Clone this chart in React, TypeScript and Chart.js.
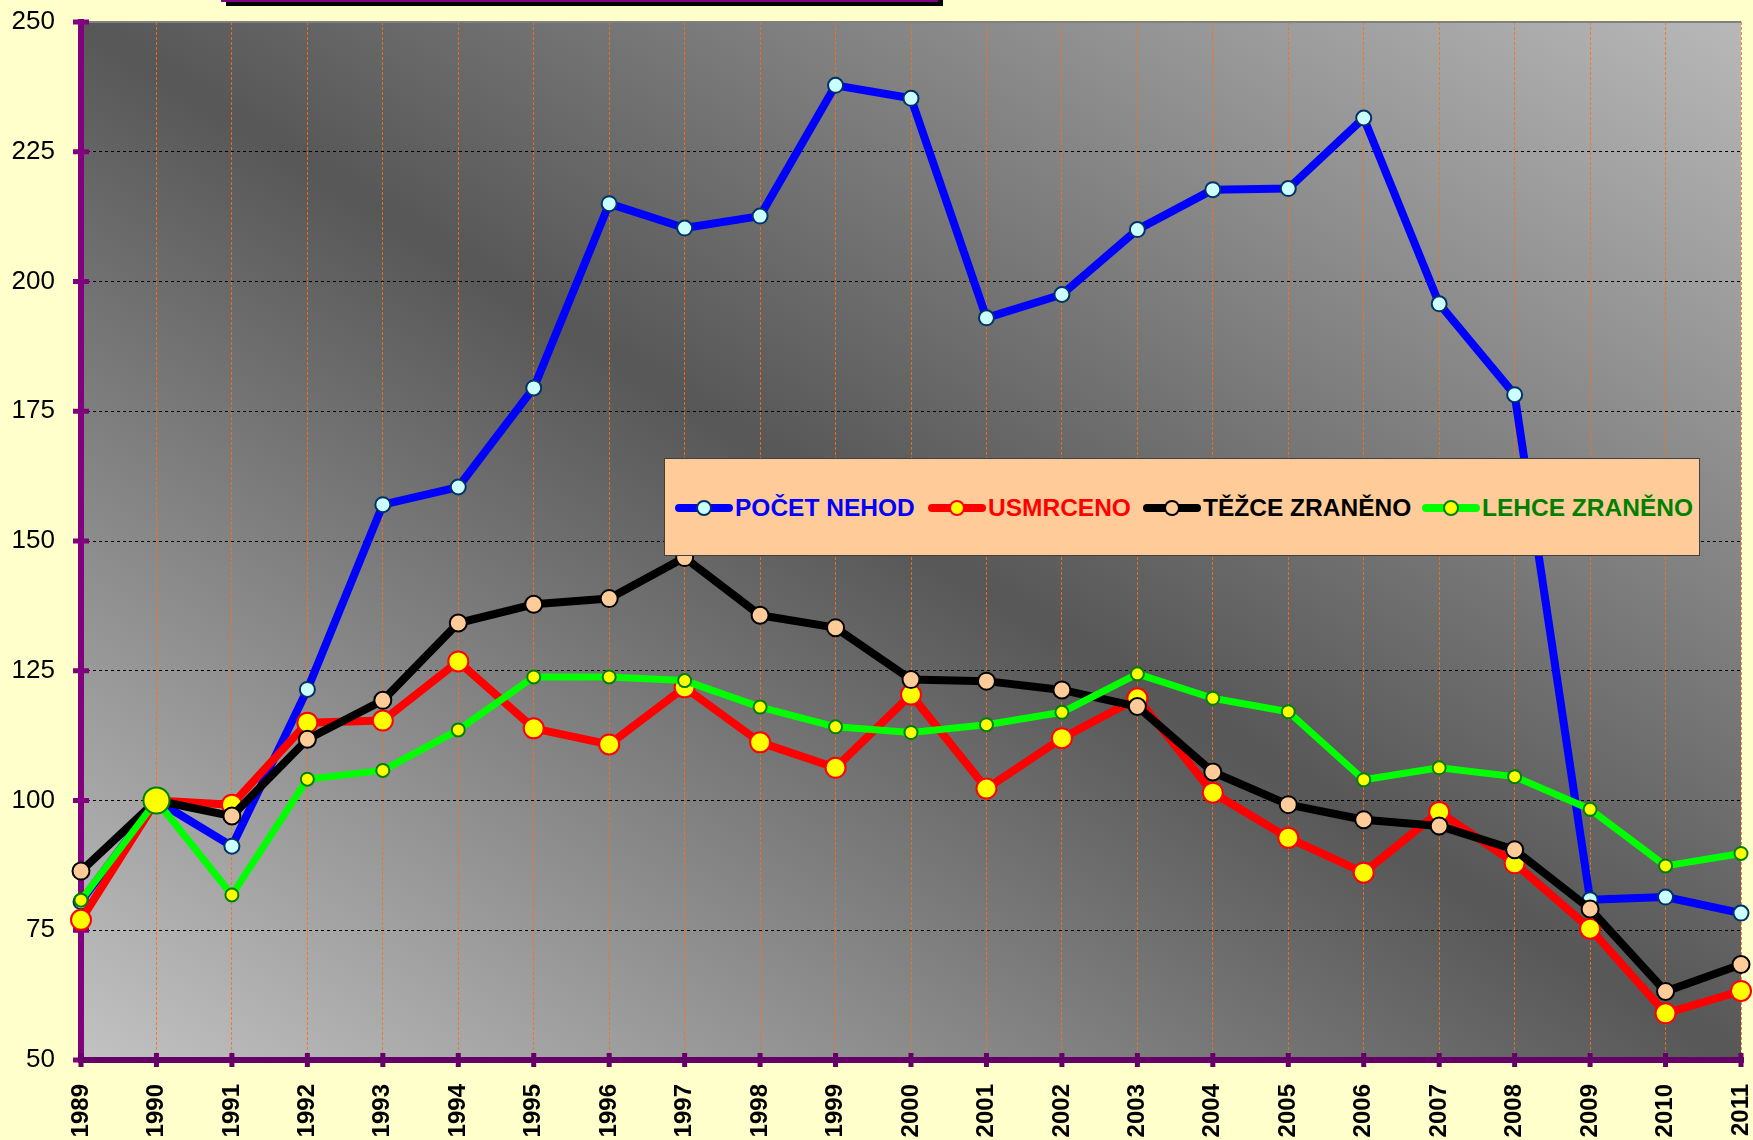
import React, { useEffect, useRef } from 'react';
import { Chart, registerables } from 'chart.js';

Chart.register(...registerables);

const years = ['1989', '1990', '1991', '1992', '1993', '1994', '1995', '1996', '1997', '1998', '1999', '2000', '2001', '2002', '2003', '2004', '2005', '2006', '2007', '2008', '2009', '2010', '2011'];

const pocetNehod = [80.5, 100, 91.2, 121.4, 157, 160.4, 179.5, 215, 210.3, 212.6, 237.8, 235.3, 193, 197.5, 210, 217.7, 217.9, 231.5, 195.7, 178.2, 80.9, 81.4, 78.3];
const usmrceno = [77, 100, 99.2, 115, 115.4, 126.8, 113.9, 110.8, 121.8, 111.2, 106.3, 120.4, 102.3, 112, 119.7, 101.5, 92.8, 86.1, 97.8, 87.9, 75.3, 59, 63.3];
const tezceZraneno = [86.4, 100, 97, 111.8, 119.3, 134.2, 137.8, 138.9, 146.8, 135.7, 133.3, 123.3, 123, 121.3, 118.1, 105.5, 99.2, 96.3, 95.1, 90.5, 79.1, 63.2, 68.4];
const lehceZraneno = [80.8, 100, 81.8, 104.1, 105.8, 113.6, 123.8, 123.8, 123.1, 118, 114.2, 113.1, 114.6, 117, 124.4, 119.7, 117.1, 104, 106.3, 104.6, 98.3, 87.4, 89.8];

const yMin = 50;
const yMax = 250;
const yStep = 25;

const seriesNames = ['POČET NEHOD', 'USMRCENO', 'TĚŽCE ZRANĚNO', 'LEHCE ZRANĚNO'];

const FONT = "'Liberation Sans', Arial, Helvetica, sans-serif";

const styles = [
  { line: '#0000ff', fill: '#ccffff', border: '#003366', text: '#0000ff', r: 7.5, w: 8 },
  { line: '#ff0000', fill: '#ffff00', border: '#ff0000', text: '#ff0000', r: 10, w: 8 },
  { line: '#000000', fill: '#ffcc99', border: '#000000', text: '#000000', r: 8.5, w: 8 },
  { line: '#00ff00', fill: '#ffff00', border: '#008000', text: '#008000', r: 6.5, w: 7 },
];

const legendLefts = [10, 263, 478, 757];

const framePlugin = {
  id: 'frame',
  beforeDraw(chart: any) {
    const { ctx, chartArea: a } = chart;
    const W = a.right - a.left;
    const H = a.bottom - a.top;
    const cx = (a.left + a.right) / 2;
    const cy = (a.top + a.bottom) / 2;
    const len = Math.sqrt(W * W + H * H);
    const d = (W * H) / len;
    const ux = H / len;
    const uy = -W / len;
    const g = ctx.createLinearGradient(cx - d * ux, cy - d * uy, cx + d * ux, cy + d * uy);
    g.addColorStop(0, '#c2c2c2');
    g.addColorStop(0.5, '#575757');
    g.addColorStop(1, '#b8b8b8');
    ctx.save();
    ctx.fillStyle = g;
    ctx.fillRect(a.left, a.top, W, H);
    ctx.restore();
  },
  beforeDatasetsDraw(chart: any) {
    const { ctx, chartArea: a, scales } = chart;
    ctx.save();
    ctx.fillStyle = '#808080';
    ctx.fillRect(a.left, a.top - 1, a.right - a.left, 2);
    ctx.fillStyle = '#800080';
    ctx.fillRect(a.left - 3, a.top - 3, 6, a.bottom - a.top + 6);
    const ys = scales.y;
    ys.ticks.forEach((t: any) => {
      const py = ys.getPixelForValue(t.value);
      ctx.fillRect(a.left - 8, py - 2.5, 16, 5);
    });
    ctx.fillStyle = '#660066';
    ctx.fillRect(a.left - 3, a.bottom - 3, a.right - a.left + 6, 6);
    const xs = scales.x;
    xs.ticks.forEach((_t: any, i: number) => {
      const px = xs.getPixelForTick(i);
      ctx.fillRect(px - 2.5, a.bottom - 7, 5, 14);
    });
    ctx.restore();
  },
};

function LegendSample({ s }: { s: any }) {
  return (
    <svg width={58} height={20} style={{ display: 'block', flex: '0 0 auto' }}>
      <line x1={4} y1={10} x2={54} y2={10} stroke={s.line} strokeWidth={8} strokeLinecap="round" />
      <circle cx={29} cy={10} r={7} fill={s.fill} stroke={s.border} strokeWidth={2} />
    </svg>
  );
}

export default function App() {
  const ref = useRef<HTMLCanvasElement | null>(null);

  useEffect(() => {
    if (!ref.current) return;
    const data = [pocetNehod, usmrceno, tezceZraneno, lehceZraneno];
    const chart = new Chart(ref.current, {
      type: 'line',
      data: {
        labels: years,
        datasets: data.map((vals, i) => ({
          label: seriesNames[i],
          data: vals,
          borderColor: styles[i].line,
          backgroundColor: styles[i].line,
          borderWidth: styles[i].w,
          borderJoinStyle: 'round',
          borderCapStyle: 'round',
          pointBackgroundColor: styles[i].fill,
          pointBorderColor: styles[i].border,
          pointBorderWidth: 2,
          pointRadius: i === 3 ? (c: any) => (c.dataIndex === 1 ? 13 : styles[3].r) : styles[i].r,
          pointHoverRadius: styles[i].r,
          tension: 0,
          fill: false,
          clip: false as any,
          order: 4 - i,
        })),
      },
      options: {
        animation: false,
        responsive: false,
        devicePixelRatio: 1,
        events: [],
        layout: { padding: { top: 22, right: 8, left: 0, bottom: 0 } },
        plugins: {
          legend: { display: false },
          tooltip: { enabled: false },
          title: { display: false },
        },
        scales: {
          x: {
            type: 'category',
            offset: false,
            grid: {
              color: 'rgba(255,110,20,0.85)',
              lineWidth: 1,
              drawTicks: false,
              offset: false,
            },
            border: { display: false, dash: [3, 2] },
            ticks: {
              color: '#000000',
              font: { family: FONT, size: 24, weight: 'bold' },
              minRotation: 90,
              maxRotation: 90,
              autoSkip: false,
              padding: 24,
            },
            afterFit(s: any) {
              s.height = 80;
              s.paddingLeft = 0;
              s.paddingRight = 0;
            },
          },
          y: {
            min: yMin,
            max: yMax,
            grid: {
              color: '#000000',
              lineWidth: 1,
              drawTicks: false,
            },
            border: { display: false, dash: [3, 3] },
            ticks: {
              stepSize: yStep,
              color: '#000000',
              font: { family: FONT, size: 26 },
              padding: 26,
            },
            afterFit(s: any) {
              s.width = 81;
              s.paddingTop = 0;
              s.paddingBottom = 0;
            },
          },
        },
      },
      plugins: [framePlugin],
    } as any);
    return () => chart.destroy();
  }, []);

  return (
    <div
      style={{
        position: 'fixed',
        left: 0,
        top: 0,
        width: 1753,
        height: 1140,
        background: '#ffffcc',
        overflow: 'hidden',
      }}
    >
      <canvas ref={ref} width={1753} height={1140} style={{ position: 'absolute', left: 0, top: 0, width: 1753, height: 1140 }} />
      <div style={{ position: 'absolute', left: 226, top: 0, width: 717, height: 6, background: '#000000' }} />
      <div style={{ position: 'absolute', left: 221, top: 0, width: 717, height: 2, background: '#800080' }} />
      <div
        style={{
          position: 'absolute',
          left: 664,
          top: 458,
          width: 1036,
          height: 98,
          boxSizing: 'border-box',
          background: '#ffcc99',
          border: '1px solid #404040',
          fontFamily: FONT,
          fontWeight: 'bold',
          fontSize: 24.5,
          whiteSpace: 'nowrap',
        }}
      >
        {seriesNames.map((n, i) => (
          <div
            key={n}
            style={{
              position: 'absolute',
              left: legendLefts[i],
              top: 35,
              height: 28,
              display: 'flex',
              alignItems: 'center',
            }}
          >
            <LegendSample s={styles[i]} />
            <span style={{ color: styles[i].text, marginLeft: 2, lineHeight: '28px' }}>{n}</span>
          </div>
        ))}
      </div>
    </div>
  );
}
